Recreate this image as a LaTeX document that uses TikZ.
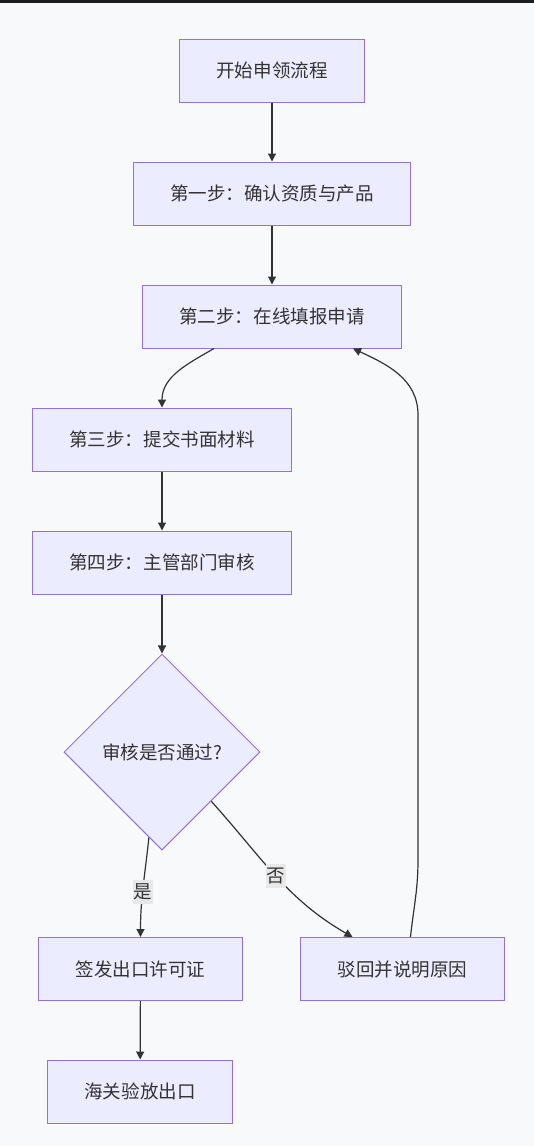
\documentclass[tikz,border=0pt]{standalone}
\usepackage{fontspec}
\setmainfont{Noto Sans CJK SC}
\usepackage{tikz}
\usetikzlibrary{arrows.meta,positioning,calc,shapes.geometric}
\usepackage{xcolor}
\definecolor{nodefill}{HTML}{ECECFF}
\definecolor{nodeline}{HTML}{9370DB}
\definecolor{inkgray}{HTML}{333333}
\definecolor{pagebg}{HTML}{F8F9FB}
\definecolor{labelbg}{HTML}{E8E8E8}
\definecolor{topbar}{HTML}{1E1E1E}

\begin{document}
\begin{tikzpicture}[x=0.75pt,y=-0.75pt,>={Triangle[length=6pt,width=6pt]},
  every node/.style={font=\fontsize{13.9pt}{16pt}\selectfont,text=inkgray},
  stepbox/.style={rectangle,draw=nodeline,fill=nodefill,line width=0.75pt,minimum height=47.25pt,inner xsep=27.75pt},
  decbox/.style={diamond,draw=nodeline,fill=nodefill,line width=0.75pt,minimum size=147pt,inner sep=1pt},
  flow/.style={->,draw=inkgray,line width=0.9pt},
  edgetag/.style={fill=labelbg,inner xsep=0.5pt,inner ysep=3pt}]
\fill[pagebg] (0,0) rectangle (534,1146);
\fill[topbar] (0,0) rectangle (534,3);
% main column
\node[stepbox] (start) at (272,70.5) {开始申领流程};
\node[stepbox] (step1) at (272,193.5) {第一步：确认资质与产品};
\node[stepbox] (step2) at (272,316.5) {第二步：在线填报申请};
\node[stepbox] (step3) at (162,439.5) {第三步：提交书面材料};
\node[stepbox] (step4) at (162,562.5) {第四步：主管部门审核};
\node[decbox] (check) at (162,752) {审核是否通过?};
\node[stepbox] (issue) at (140.5,969) {签发出口许可证};
\node[stepbox] (reject) at (402.5,969) {驳回并说明原因};
\node[stepbox] (release) at (140,1091.5) {海关验放出口};
% connectors
\draw[flow] (start) -- (step1);
\draw[flow] (step1) -- (step2);
\draw[flow] ([xshift=-43.5pt]step2.south) to[out=-150,in=90] (step3.north);
\draw[flow] (step3) -- (step4);
\draw[flow] (step4) -- (check);
\coordinate (yesfoot) at ($(check.south)!0.133!(check.west)$);
\draw[flow] (yesfoot) to[out=-96,in=90] node[edgetag,pos=0.55] {是} (issue.north);
\draw[flow] (check.south east) to[out=-48,in=150] node[edgetag,pos=0.5] {否} ([xshift=-37.5pt]reject.north);
\coordinate (backlow) at (418,860);
\coordinate (backhigh) at (418,415);
\draw[flow] ([xshift=6pt]reject.north) to[out=84,in=-90] (backlow) -- (backhigh) to[out=90,in=-25] ([xshift=60.75pt]step2.south);
\draw[flow] (issue) -- (release);
\end{tikzpicture}
\end{document}
